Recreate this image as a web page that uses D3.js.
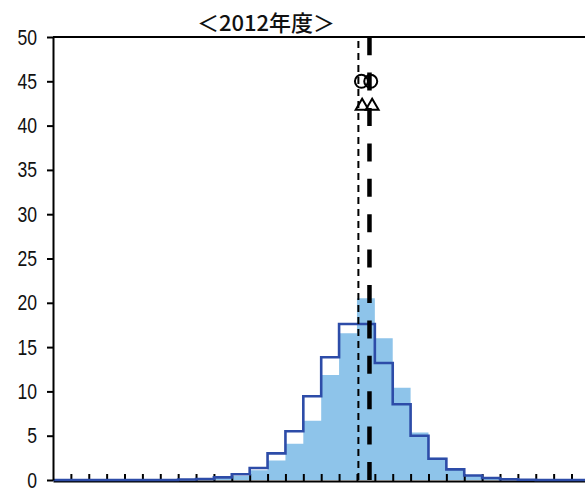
<!DOCTYPE html>
<html>
<head>
<meta charset="utf-8">
<script src="https://cdn.jsdelivr.net/npm/d3@7"></script>
<style>
  body { margin: 0; background: #fff; }
  svg { display: block; }
</style>
</head>
<body>
<svg id="chart" width="585" height="492"></svg>
<script>
// share of respondents (%) per bin, 30 bins
var fillShare = [0, 0, 0, 0, 0, 0, 0, 0, 0.1, 0.2,
                 0.45, 1.1, 2.2, 4.1, 6.7, 11.85, 16.55, 20.5, 16.0, 10.4,
                 5.35, 2.5, 1.35, 0.56, 0.25, 0.1, 0, 0, 0, 0];
var lineShare = [0, 0, 0, 0, 0, 0, 0, 0.05, 0.12, 0.3,
                 0.65, 1.35, 3.0, 5.5, 9.45, 13.85, 17.6, 17.6, 13.2, 8.55,
                 5.0, 2.4, 1.2, 0.5, 0.22, 0.08, 0.03, 0, 0, 0];
var yTicks = [0, 5, 10, 15, 20, 25, 30, 35, 40, 45, 50];
var binTicks = d3.range(1, 30);

// vertical reference lines (bin position)
var thinLineAt = 17.08;
var thickLineAt = 17.7;
// markers: [bin position, value]
var circleMarks = [[17.25, 45], [17.77, 45]];
var triangleMarks = [[17.29, 42.2], [17.85, 42.2]];

var title = "＜2012年度＞";

var svg = d3.select("#chart");
var x = d3.scaleLinear().domain([0, 30]).range([53, 589.4]);
var y = d3.scaleLinear().domain([0, 50]).range([480, 37]);

var fillColor = "#8ec4ea",
    lineColor = "#2d4ca8";

// filled bars as one stepped area (no seams between bins)
var fillPts = fillShare.map(function(d, i) { return [i, d]; });
fillPts.push([30, fillShare[29]]);
svg.append("path")
  .datum(fillPts)
  .attr("fill", fillColor)
  .attr("d", d3.area()
    .x(function(d) { return x(d[0]); })
    .y0(y(0))
    .y1(function(d) { return y(d[1]); })
    .curve(d3.curveStepAfter));

// x axis (ticks pointing up)
var xAxis = svg.append("g")
  .attr("transform", "translate(0," + (y(0) + 1) + ")")
  .call(d3.axisBottom(x).tickValues(binTicks).tickSize(-7).tickSizeOuter(0).tickFormat(""));
xAxis.selectAll("line, path").attr("stroke", "#000").attr("stroke-width", 2);

// step outline
var stepPts = lineShare.map(function(d, i) { return [i, d]; });
stepPts.push([30, lineShare[29]]);
svg.append("path")
  .datum(stepPts)
  .attr("fill", "none")
  .attr("stroke", lineColor)
  .attr("stroke-width", 2.6)
  .attr("d", d3.line()
    .x(function(d) { return x(d[0]); })
    .y(function(d) { return y(d[1]); })
    .curve(d3.curveStepAfter));

// y axis, labels squeezed to look like the narrow original font
var yAxis = svg.append("g")
  .attr("transform", "translate(" + x(0) + ",0)")
  .call(d3.axisLeft(y).tickValues(yTicks).tickSize(6).tickSizeOuter(0));
yAxis.selectAll("line, path").attr("stroke", "#000").attr("stroke-width", 2);
yAxis.selectAll("text")
  .attr("x", 0)
  .attr("transform", "translate(-16,0) scale(0.8,1)")
  .attr("font-family", "'Liberation Sans', Arial, sans-serif")
  .attr("font-size", 22)
  .attr("fill", "#111");

// top border
svg.append("line")
  .attr("x1", x(0)).attr("x2", 585)
  .attr("y1", y(50)).attr("y2", y(50))
  .attr("stroke", "#000").attr("stroke-width", 2);

// vertical dashed lines, drawn from the bottom up
svg.append("line")
  .attr("x1", x(thinLineAt)).attr("x2", x(thinLineAt))
  .attr("y1", y(0)).attr("y2", y(50))
  .attr("stroke", "#000").attr("stroke-width", 2)
  .attr("stroke-dasharray", "7,5");
svg.append("line")
  .attr("x1", x(thickLineAt)).attr("x2", x(thickLineAt))
  .attr("y1", y(0)).attr("y2", y(50))
  .attr("stroke", "#000").attr("stroke-width", 4.5)
  .attr("stroke-dasharray", "18,17.4");

// markers
svg.append("g")
  .selectAll("circle")
  .data(circleMarks)
  .join("circle")
    .attr("cx", function(d) { return x(d[0]); })
    .attr("cy", function(d) { return y(d[1]); })
    .attr("r", 6.5)
    .attr("fill", "none")
    .attr("stroke", "#000")
    .attr("stroke-width", 2);

svg.append("g")
  .selectAll("path")
  .data(triangleMarks)
  .join("path")
    .attr("transform", function(d) { return "translate(" + x(d[0]) + "," + y(d[1]) + ")"; })
    .attr("d", d3.symbol(d3.symbolTriangle, 72))
    .attr("fill", "none")
    .attr("stroke", "#000")
    .attr("stroke-width", 2);

// title
svg.append("text")
  .attr("x", 266)
  .attr("y", 31)
  .attr("text-anchor", "middle")
  .attr("font-family", "'Noto Sans CJK JP', sans-serif")
  .attr("font-weight", 500)
  .attr("font-size", 22)
  .attr("fill", "#111")
  .text(title);
</script>
</body>
</html>
